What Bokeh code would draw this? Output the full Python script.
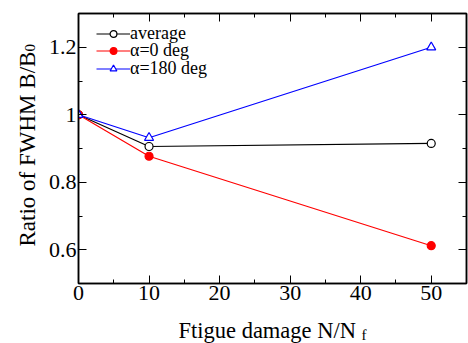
import math
from bokeh.plotting import figure
from bokeh.models import (Range1d, FixedTicker, LinearAxis, Label, Legend)
from bokeh.embed import file_html
from bokeh.resources import INLINE

# ---- data ----
damage = [0, 10, 50]
average = [1.0, 0.906, 0.915]
alpha0 = [1.0, 0.877, 0.612]
alpha180 = [1.0, 0.932, 1.200]

x_ticks = [0, 10, 20, 30, 40, 50]
x_tick_labels = ["0", "10", "20", "30", "40", "50"]
x_minor = [5, 15, 25, 35, 45, 55]
y_ticks = [0.6, 0.8, 1.0, 1.2]
y_tick_labels = ["0.6", "0.8", "1", "1.2"]
y_minor = [0.5, 0.7, 0.9, 1.1, 1.3]

series_names = ["average", "\u03b1=0 deg", "\u03b1=180 deg"]

FONT = "Liberation Serif"

p = figure(width=468, height=343, output_backend="svg", toolbar_location=None,
           x_range=Range1d(0, 55), y_range=Range1d(0.5, 1.3),
           x_axis_location=None, y_axis_location=None,
           min_border_left=78, min_border_right=2, min_border_top=13,
           min_border_bottom=54)
p.grid.visible = False
p.outline_line_color = "black"
p.outline_line_width = 1.5
p.background_fill_color = "white"
p.border_fill_color = "white"


def make_axis(ticks, minor, labels, show_labels):
    ax = LinearAxis(ticker=FixedTicker(ticks=ticks, minor_ticks=minor))
    ax.axis_line_width = 1.5
    ax.axis_line_color = "black"
    ax.major_tick_in = 8
    ax.major_tick_out = 0
    ax.minor_tick_in = 4
    ax.minor_tick_out = 0
    ax.major_tick_line_width = 1
    ax.minor_tick_line_width = 1
    if show_labels:
        ax.major_label_overrides = {t: l for t, l in zip(ticks, labels)}
        ax.major_label_text_font = FONT
        ax.major_label_text_font_size = "22px"
        ax.major_label_text_color = "black"
    else:
        ax.major_label_overrides = {t: "" for t in ticks}
        ax.major_label_text_font_size = "0px"
        ax.major_label_standoff = 0
    return ax


bottom = make_axis(x_ticks, x_minor, x_tick_labels, True)
bottom.major_label_standoff = 2
left = make_axis(y_ticks, y_minor, y_tick_labels, True)
left.major_label_standoff = 2
top = make_axis(x_ticks, x_minor, x_tick_labels, False)
right = make_axis(y_ticks, y_minor, y_tick_labels, False)
p.add_layout(bottom, "below")
p.add_layout(left, "left")
p.add_layout(top, "above")
p.add_layout(right, "right")

# ---- series ----
r1l = p.line(damage, average, line_color="black", line_width=1.2)
r1m = p.scatter(damage, average, marker="circle", size=8, line_color="black",
                fill_color="white", line_width=1.2)
r2l = p.line(damage, alpha0, line_color="red", line_width=1.2)
r2m = p.scatter(damage, alpha0, marker="circle", size=8, line_color="red",
                fill_color="red", line_width=1.2)
r3l = p.line(damage, alpha180, line_color="blue", line_width=1.2)
r3m = p.scatter(damage, alpha180, marker="triangle", size=9, line_color="blue",
                fill_color="white", line_width=1.2)

# one legend per row so that the row pitch can be set exactly
legend_rows = [(series_names[0], [r1l, r1m], 239),
               (series_names[1], [r2l, r2m], 222),
               (series_names[2], [r3l, r3m], 204)]
for name, rends, vy in legend_rows:
    lg = Legend(items=[(name, rends)], location=(18, vy))
    lg.margin = 0
    lg.padding = 0
    lg.spacing = 0
    lg.glyph_width = 34
    lg.glyph_height = 17
    lg.label_height = 17
    lg.label_standoff = 0
    lg.label_text_font = FONT
    lg.label_text_font_size = "18px"
    lg.label_text_color = "black"
    lg.border_line_color = None
    lg.background_fill_alpha = 0
    p.add_layout(lg, "center")

# ---- axis titles as labels (for subscripts) ----
lab_style = dict(text_font=FONT, text_color="black", x_units="screen", y_units="screen")
p.add_layout(Label(x=100, y=-3, text="Ftigue damage N/N", text_font_size="22.5px",
                   text_align="left", text_baseline="alphabetic", **lab_style), "below")
p.add_layout(Label(x=283, y=9, text="f", text_font_size="15px",
                   text_align="left", text_baseline="alphabetic", **lab_style), "below")
p.add_layout(Label(x=7, y=37, text="Ratio of FWHM B/B", text_font_size="23px",
                   angle=math.pi / 2, text_align="left", text_baseline="alphabetic",
                   **lab_style), "left")
p.add_layout(Label(x=19, y=232, text="0", text_font_size="15px",
                   angle=math.pi / 2, text_align="left", text_baseline="alphabetic",
                   **lab_style), "left")

open("out.html", "w").write(file_html(p, INLINE))
